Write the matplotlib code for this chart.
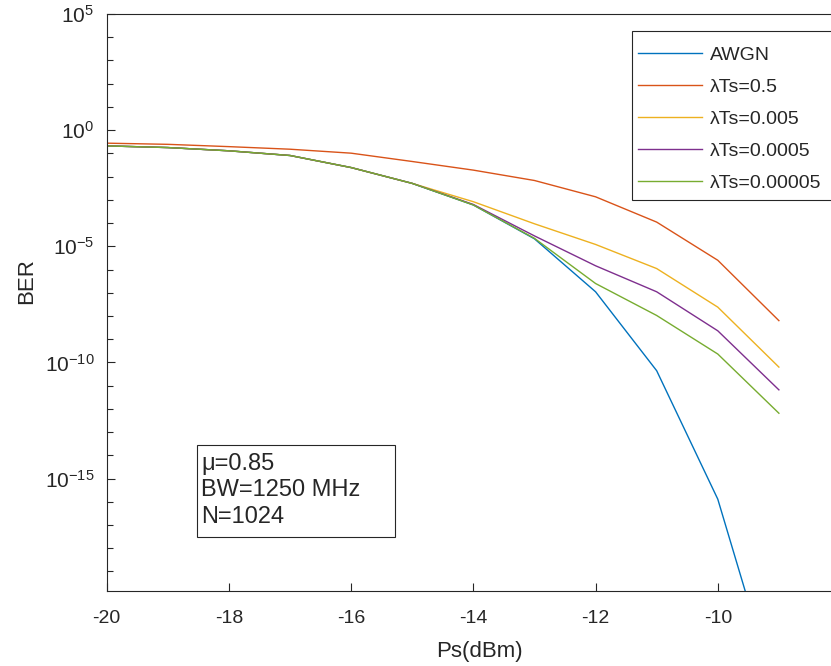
import numpy as np
import matplotlib
matplotlib.use("Agg")
import matplotlib.pyplot as plt
from matplotlib.patches import Rectangle
from matplotlib.ticker import FixedLocator, NullFormatter

plt.rcParams['font.family'] = ['Liberation Sans', 'DejaVu Sans']
plt.rcParams['axes.unicode_minus'] = False

# data (BER vs transmit power)
ps_dbm = [-20, -19, -18, -17, -16, -15, -14, -13, -12, -11, -10, -9]
ber_awgn = [2.1e-1, 1.78e-1, 1.29e-1, 8.1e-2, 2.45e-2, 5.1e-3, 6.0e-4, 2.1e-5, 1.1e-7, 4.4e-11, 1.3e-16, 2.0e-25]
ber_05 = [2.75e-1, 2.45e-1, 1.95e-1, 1.51e-1, 1.02e-1, 4.47e-2, 1.9e-2, 6.8e-3, 1.35e-3, 1.1e-4, 2.5e-6, 6.3e-9]
ber_0005 = [2.1e-1, 1.78e-1, 1.29e-1, 8.1e-2, 2.45e-2, 5.1e-3, 8.3e-4, 9.3e-5, 1.2e-5, 1.1e-6, 2.4e-8, 6.3e-11]
ber_00005 = [2.1e-1, 1.78e-1, 1.29e-1, 8.1e-2, 2.45e-2, 5.1e-3, 6.3e-4, 2.8e-5, 1.45e-6, 1.1e-7, 2.3e-9, 6.6e-12]
ber_000005 = [2.1e-1, 1.78e-1, 1.29e-1, 8.1e-2, 2.45e-2, 5.1e-3, 6.0e-4, 2.2e-5, 2.5e-7, 1.05e-8, 2.3e-10, 6.5e-13]

labels = ['AWGN', 'λTs=0.5', 'λTs=0.005', 'λTs=0.0005', 'λTs=0.00005']
colors = ['#0072BD', '#D95319', '#EDB120', '#7E2F8E', '#77AC30']
series = [ber_awgn, ber_05, ber_0005, ber_00005, ber_000005]
yticks = [1e-15, 1e-10, 1e-5, 1e0, 1e5]
ytick_labels = ['$\\mathregular{10^{-15}}$', '$\\mathregular{10^{-10}}$',
                '$\\mathregular{10^{-5}}$', '$\\mathregular{10^{0}}$', '$\\mathregular{10^{5}}$']
xticks = [-20, -18, -16, -14, -12, -10]
note = 'μ=0.85\nBW=1250 MHz\nN=1024'

W, H = 831, 666
fig = plt.figure(figsize=(W / 100, H / 100), dpi=100)
ax_l, ax_r, ax_t, ax_b = 106.7, 840.0, 14.0, 591.0
ax = fig.add_axes([ax_l / W, (H - ax_b) / H, (ax_r - ax_l) / W, (ax_b - ax_t) / H])

for y, c, lab in zip(series, colors, labels):
    ax.plot(ps_dbm, y, color=c, lw=1.0, label=lab)

ax.set_yscale('log')
ax.set_xlim(-20, -8)
ax.set_ylim(10 ** -19.84, 1e5)
ax.xaxis.set_major_locator(FixedLocator(xticks))
ax.yaxis.set_major_locator(FixedLocator(yticks))
ax.yaxis.set_minor_locator(FixedLocator([10.0 ** k for k in range(-19, 5) if k % 5 != 0]))
ax.yaxis.set_minor_formatter(NullFormatter())
ax.set_yticklabels(ytick_labels)

txt = '#262626'
for s in ax.spines.values():
    s.set_color(txt)
    s.set_linewidth(0.8)
ax.tick_params(which='both', direction='in', colors=txt, top=False, right=False)
ax.tick_params(which='major', length=6, width=0.8)
ax.tick_params(which='minor', length=4, width=0.8)
ax.tick_params(axis='x', labelsize=14, pad=14)
ax.tick_params(axis='y', labelsize=15, pad=9)

ax.set_xlabel('Ps(dBm)', fontsize=16, color=txt)
ax.set_ylabel('BER', fontsize=16, color=txt)
ax.xaxis.set_label_coords((479 - ax_l) / (ax_r - ax_l), (ax_b - 651) / (ax_b - ax_t))
ax.yaxis.set_label_coords((27 - ax_l) / (ax_r - ax_l), (ax_b - 281) / (ax_b - ax_t))
ax.xaxis.label.set_va('center')
ax.yaxis.label.set_va('center')

# legend box drawn separately so its size matches the original
ax.add_patch(Rectangle((632 / W, 1 - 200 / H), 210 / W, 169 / H, transform=fig.transFigure,
                       facecolor='white', edgecolor=txt, linewidth=0.8, zorder=4, clip_on=False))
leg = ax.legend(loc='upper left', bbox_to_anchor=(638 / W, 1 - 46 / H),
                bbox_transform=fig.transFigure, fontsize=14, frameon=False,
                handlelength=3.3, handletextpad=0.42,
                labelspacing=0.74, borderpad=0, borderaxespad=0)
leg.set_zorder(5)
for t in leg.get_texts():
    t.set_color(txt)

# annotation box (fixed size, as in the original)
ax.add_patch(Rectangle((197 / W, 1 - 537 / H), 198 / W, 92 / H, transform=fig.transFigure,
                       facecolor='white', edgecolor=txt, linewidth=0.8, zorder=4, clip_on=False))
ax.text(201 / W, 1 - 453 / H, note, transform=fig.transFigure, fontsize=17, color=txt,
        va='top', ha='left', linespacing=1.26, zorder=5)

fig.savefig('out.png', dpi=100)
